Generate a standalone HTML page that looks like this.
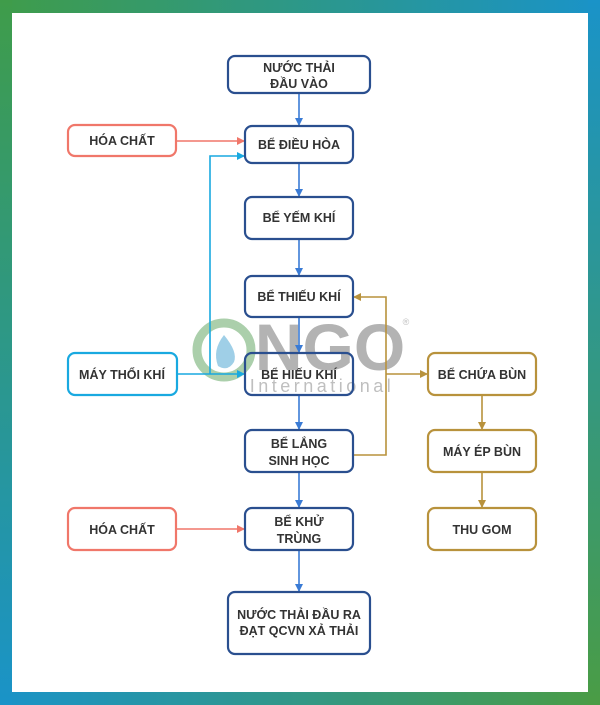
<!DOCTYPE html>
<html><head><meta charset="utf-8"><style>
html,body{margin:0;padding:0;width:600px;height:705px;overflow:hidden}
body{position:relative;background:#fff}
.s{position:absolute}
svg{position:absolute;left:0;top:0}
text{font-family:"Liberation Sans",sans-serif;font-weight:bold;font-size:12.5px;fill:#333;text-anchor:middle}
</style></head><body>
<svg width="600" height="705" viewBox="0 0 600 705">
<defs>
<linearGradient id="gt" x1="0" y1="0" x2="1" y2="0"><stop offset="0" stop-color="#3f9c4a"/><stop offset="1" stop-color="#1a93c8"/></linearGradient>
<linearGradient id="gb" x1="0" y1="0" x2="1" y2="0"><stop offset="0" stop-color="#1a93c8"/><stop offset="1" stop-color="#4a9c45"/></linearGradient>
<linearGradient id="gl" x1="0" y1="0" x2="0" y2="1"><stop offset="0" stop-color="#3f9c4a"/><stop offset="1" stop-color="#1a93c8"/></linearGradient>
<linearGradient id="gr" x1="0" y1="0" x2="0" y2="1"><stop offset="0" stop-color="#1a93c8"/><stop offset="1" stop-color="#4a9c45"/></linearGradient>
<marker id="ab" markerWidth="8" markerHeight="8" refX="7" refY="4" orient="auto" markerUnits="userSpaceOnUse"><path d="M0,0 L8,4 L0,8z" fill="#3a7bd5"/></marker>
<marker id="ac" markerWidth="8" markerHeight="8" refX="7" refY="4" orient="auto" markerUnits="userSpaceOnUse"><path d="M0,0 L8,4 L0,8z" fill="#19a9e0"/></marker>
<marker id="ar" markerWidth="8" markerHeight="8" refX="7" refY="4" orient="auto" markerUnits="userSpaceOnUse"><path d="M0,0 L8,4 L0,8z" fill="#f0776a"/></marker>
<marker id="ag" markerWidth="8" markerHeight="8" refX="7" refY="4" orient="auto" markerUnits="userSpaceOnUse"><path d="M0,0 L8,4 L0,8z" fill="#b8923c"/></marker>
</defs>
<rect x="0" y="0" width="600" height="13" fill="url(#gt)"/>
<rect x="0" y="692" width="600" height="13" fill="url(#gb)"/>
<rect x="0" y="0" width="12" height="705" fill="url(#gl)"/>
<rect x="588" y="0" width="12" height="705" fill="url(#gr)"/>

<!-- watermark -->
<g opacity="0.75">
<circle cx="224" cy="350" r="27" fill="none" stroke="#8fc08f" stroke-width="9"/>
<path d="M224,335 Q238,352 234,362 Q228,372 218,366 Q212,350 224,335z" fill="#7fc0e0"/>
<text x="330" y="370" style="font-size:66px;fill:#9a9a9a;font-weight:bold">NGO</text>
<text x="322" y="392" style="font-size:18px;fill:#aaa;font-weight:normal;letter-spacing:3.5px">International</text>
<text x="406" y="325" style="font-size:9px;fill:#aaa;font-weight:normal">®</text>
</g>

<g fill="none" stroke-width="1.6">
<!-- blue main flow -->
<g stroke="#3a7bd5">
<line x1="299" y1="93" x2="299" y2="125" marker-end="url(#ab)"/>
<line x1="299" y1="163" x2="299" y2="196" marker-end="url(#ab)"/>
<line x1="299" y1="239" x2="299" y2="275" marker-end="url(#ab)"/>
<line x1="299" y1="317" x2="299" y2="352" marker-end="url(#ab)"/>
<line x1="299" y1="395" x2="299" y2="429" marker-end="url(#ab)"/>
<line x1="299" y1="472" x2="299" y2="507" marker-end="url(#ab)"/>
<line x1="299" y1="550" x2="299" y2="591" marker-end="url(#ab)"/>
</g>
<g stroke="#f0776a">
<line x1="176" y1="141" x2="244" y2="141" marker-end="url(#ar)"/>
<line x1="176" y1="529" x2="244" y2="529" marker-end="url(#ar)"/>
</g>
<g stroke="#19a9e0">
<line x1="177" y1="374" x2="244" y2="374" marker-end="url(#ac)"/>
<polyline points="210,374 210,156 244,156" marker-end="url(#ac)"/>
</g>
<g stroke="#b8923c">
<polyline points="353,455 386,455 386,297 354,297" marker-end="url(#ag)"/>
<line x1="386" y1="374" x2="427" y2="374" marker-end="url(#ag)"/>
<line x1="482" y1="395" x2="482" y2="429" marker-end="url(#ag)"/>
<line x1="482" y1="472" x2="482" y2="507" marker-end="url(#ag)"/>
</g>
</g>

<g fill="#fff" stroke-width="2.2">
<g stroke="#2a4f8f">
<rect x="228" y="56" width="142" height="37" rx="7"/>
<rect x="245" y="126" width="108" height="37" rx="7"/>
<rect x="245" y="197" width="108" height="42" rx="7"/>
<rect x="245" y="276" width="108" height="41" rx="7"/>
<rect x="245" y="353" width="108" height="42" rx="7" fill="none"/>
<rect x="245" y="430" width="108" height="42" rx="7"/>
<rect x="245" y="508" width="108" height="42" rx="7"/>
<rect x="228" y="592" width="142" height="62" rx="7"/>
</g>
<g stroke="#f0776a">
<rect x="68" y="125" width="108" height="31" rx="7"/>
<rect x="68" y="508" width="108" height="42" rx="7"/>
</g>
<rect x="68" y="353" width="109" height="42" rx="7" stroke="#19a9e0"/>
<g stroke="#b8923c">
<rect x="428" y="353" width="108" height="42" rx="7"/>
<rect x="428" y="430" width="108" height="42" rx="7"/>
<rect x="428" y="508" width="108" height="42" rx="7"/>
</g>
</g>

<text x="299" y="72">NƯỚC THẢI</text>
<text x="299" y="88">ĐẦU VÀO</text>
<text x="122" y="145">HÓA CHẤT</text>
<text x="299" y="149">BỂ ĐIỀU HÒA</text>
<text x="299" y="222">BỂ YẾM KHÍ</text>
<text x="299" y="301">BỂ THIẾU KHÍ</text>
<text x="122" y="379">MÁY THỔI KHÍ</text>
<text x="299" y="379">BỂ HIẾU KHÍ</text>
<text x="482" y="379">BỂ CHỨA BÙN</text>
<text x="299" y="448">BỂ LẮNG</text>
<text x="299" y="465">SINH HỌC</text>
<text x="482" y="456">MÁY ÉP BÙN</text>
<text x="122" y="534">HÓA CHẤT</text>
<text x="299" y="526">BỂ KHỬ</text>
<text x="299" y="543">TRÙNG</text>
<text x="482" y="534">THU GOM</text>
<text x="299" y="619">NƯỚC THẢI ĐẦU RA</text>
<text x="299" y="635">ĐẠT QCVN XẢ THẢI</text>
</svg>
</body></html>
